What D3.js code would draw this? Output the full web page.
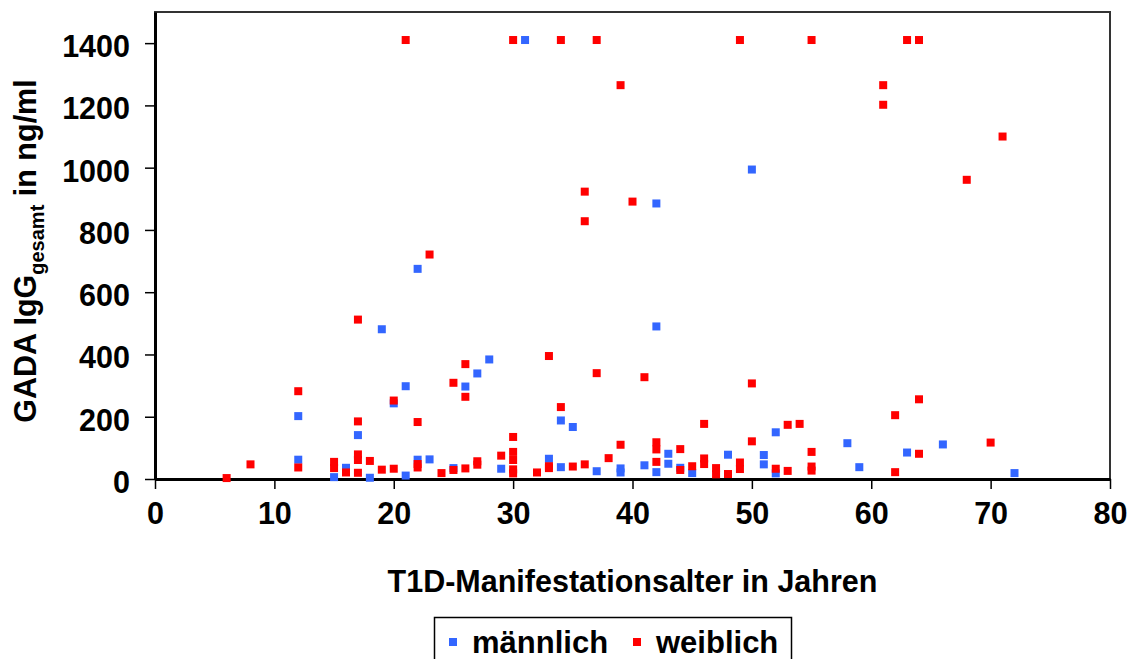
<!DOCTYPE html>
<html>
<head>
<meta charset="utf-8">
<script src="https://cdn.jsdelivr.net/npm/d3@7"></script>
<style>
  html, body { margin: 0; padding: 0; background: #fff; }
  text { font-family: "Liberation Sans", Arial, sans-serif; font-weight: bold; fill: #000; }
</style>
</head>
<body>
<svg id="chart" width="1134" height="659"></svg>
<script>
// ---- data ----
const xTicks = [0, 10, 20, 30, 40, 50, 60, 70, 80];
const yTicks = [0, 200, 400, 600, 800, 1000, 1200, 1400];

const maleAge = [31, 50, 42, 22, 19, 42, 28, 27, 21, 26, 20, 12, 34, 35, 17, 52, 58, 66, 63, 43, 48, 51, 12, 22, 23, 33, 51, 43, 41, 59, 34, 16, 25, 29, 39, 44, 37, 39, 42, 45, 52, 72, 21, 15, 18];
const maleGADA = [1410, 994, 885, 675, 481, 490, 384, 339, 298, 297, 243, 202, 188, 167, 141, 150, 115, 111, 85, 81, 78, 77, 62, 62, 63, 65, 47, 49, 44, 38, 38, 36, 35, 33, 34, 36, 25, 21, 22, 19, 18, 19, 11, 6, 4];

const femaleAge = [21, 30, 34, 37, 49, 55, 63, 64, 39, 61, 61, 71, 68, 36, 40, 36, 23, 17, 33, 26, 37, 41, 25, 50, 12, 26, 64, 20, 34, 62, 17, 22, 46, 53, 54, 30, 50, 42, 70, 39, 44, 42, 55, 30, 64, 17, 29, 38, 46, 17, 30, 18, 27, 15, 42, 49, 22, 8, 27, 36, 46, 33, 45, 35, 55, 12, 22, 15, 47, 20, 26, 33, 52, 49, 19, 25, 44, 30, 55, 53, 32, 16, 17, 24, 62, 30, 48, 47, 6];
const femaleGADA = [1410, 1410, 1410, 1410, 1410, 1410, 1410, 1410, 1265, 1265, 1202, 1100, 961, 923, 891, 828, 721, 512, 395, 369, 340, 327, 309, 307, 282, 264, 256, 252, 231, 205, 185, 183, 177, 174, 177, 135, 121, 118, 117, 110, 96, 95, 87, 87, 81, 79, 75, 67, 66, 61, 61, 58, 57, 55, 55, 53, 48, 47, 46, 47, 48, 41, 41, 40, 40, 37, 37, 35, 35, 33, 34, 35, 33, 32, 30, 29, 29, 31, 27, 26, 21, 21, 20, 19, 22, 18, 16, 15, 3];

const seriesNames = ["männlich", "weiblich"];
const seriesColors = ["#3366FF", "#FF0000"];

// ---- layout ----
const svg = d3.select("#chart");
const mLeft = 155, mRight = 1110, mTop = 12, mBottom = 479;
const fs = 30.5;

const x = d3.scaleLinear().domain([0, 80]).range([mLeft, mRight]);
const y = d3.scaleLinear().domain([0, 1500]).range([mBottom, mTop]);

// frame
svg.append("rect")
  .attr("x", mLeft).attr("y", mTop)
  .attr("width", mRight - mLeft).attr("height", mBottom - mTop)
  .attr("fill", "none").attr("stroke", "#333").attr("stroke-width", 2);

// axes
const xAxis = svg.append("g").attr("transform", `translate(0,${mBottom})`)
  .call(d3.axisBottom(x).tickValues(xTicks).tickFormat(d3.format("d"))
    .tickSize(10).tickPadding(12).tickSizeOuter(0));
const yAxis = svg.append("g").attr("transform", `translate(${mLeft},0)`)
  .call(d3.axisLeft(y).tickValues(yTicks).tickFormat(d3.format("d"))
    .tickSize(10).tickPadding(15).tickSizeOuter(0));

[xAxis, yAxis].forEach(g => {
  g.select(".domain").attr("stroke", "#000").attr("stroke-width", 3);
  g.selectAll(".tick line").attr("stroke", "#000").attr("stroke-width", 1.5);
  g.selectAll(".tick text")
    .style("font-family", '"Liberation Sans", Arial, sans-serif')
    .style("font-weight", "bold").style("font-size", fs + "px").attr("fill", "#000");
});
yAxis.selectAll(".tick text").attr("dy", "0.44em");
xAxis.selectAll(".tick text").attr("dy", "0.76em");

// axis titles
svg.append("text")
  .attr("x", (mLeft + mRight) / 2).attr("y", 592)
  .attr("text-anchor", "middle").style("font-size", fs + "px")
  .text("T1D-Manifestationsalter in Jahren");

const yt = svg.append("text")
  .attr("transform", `translate(36,251) rotate(-90)`)
  .attr("text-anchor", "middle").style("font-size", fs + "px");
yt.append("tspan").text("GADA IgG");
yt.append("tspan").attr("dy", 8).style("font-size", "20px").text("gesamt");
yt.append("tspan").attr("dy", -8).text(" in ng/ml");

// points
const sz = 8;
const series = [
  { ages: maleAge, vals: maleGADA, color: seriesColors[0] },
  { ages: femaleAge, vals: femaleGADA, color: seriesColors[1] }
];
series.forEach(s => {
  svg.append("g").selectAll("rect")
    .data(d3.range(s.ages.length))
    .join("rect")
    .attr("x", i => x(s.ages[i]) - sz / 2)
    .attr("y", i => y(s.vals[i]) - sz / 2)
    .attr("width", sz).attr("height", sz)
    .attr("fill", s.color);
});

// legend
const lg = svg.append("g");
lg.append("rect").attr("x", 434.5).attr("y", 617.5).attr("width", 357).attr("height", 50)
  .attr("fill", "#fff").attr("stroke", "#000").attr("stroke-width", 1.5);
const legendX = [449, 633];
const legendTextX = [472, 656];
seriesNames.forEach((n, i) => {
  lg.append("rect").attr("x", legendX[i]).attr("y", 638).attr("width", 8).attr("height", 8)
    .attr("fill", seriesColors[i]);
  lg.append("text").attr("x", legendTextX[i]).attr("y", 653)
    .style("font-size", "31px").text(n);
});
</script>
</body>
</html>
